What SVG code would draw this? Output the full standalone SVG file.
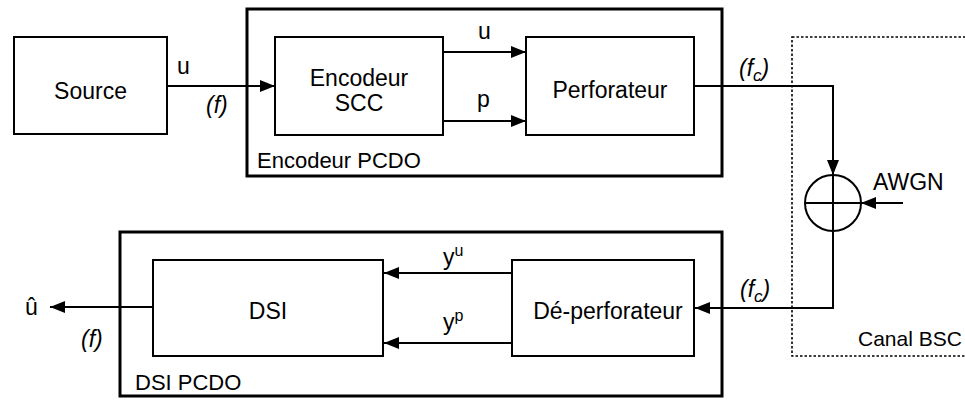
<svg xmlns="http://www.w3.org/2000/svg" width="965" height="400" viewBox="0 0 965 400">
<style>
.box{fill:none;stroke:#000;stroke-width:2}
.outer{fill:none;stroke:#000;stroke-width:3}
.dash{fill:none;stroke:#000;stroke-width:1.6;stroke-dasharray:2.5 2}
.ln{fill:none;stroke:#000;stroke-width:2}
text{font-family:"Liberation Sans",Arial,sans-serif;fill:#000}
.t{font-size:23px}
.s{font-size:22px}
.i{font-style:italic;font-size:23px}
</style>
<defs>
<marker id="arr" markerWidth="16" markerHeight="12" refX="15" refY="6" orient="auto" markerUnits="userSpaceOnUse">
<path d="M0,0 L15,6 L0,12 Z" fill="#000"/>
</marker>
</defs>
<rect width="965" height="400" fill="#fff"/>

<g id="canal">
<rect class="dash" x="792" y="37" width="190" height="319"/>
<text x="858" y="346" font-size="21">Canal BSC</text>
</g>

<g id="encodeur-pcdo">
<rect class="outer" x="247" y="9" width="475" height="167"/>
<text class="s" x="257" y="168">Encodeur PCDO</text>
</g>

<g id="dsi-pcdo">
<rect class="outer" x="120" y="232" width="602" height="164"/>
<text class="s" x="135" y="390">DSI PCDO</text>
</g>

<g id="source">
<rect class="box" x="14" y="37" width="153" height="97"/>
<text class="t" x="90.5" y="99" text-anchor="middle">Source</text>
</g>

<g id="encodeur-scc">
<rect class="box" x="275" y="37" width="168" height="98"/>
<text class="t" x="359" y="86" text-anchor="middle">Encodeur</text>
<text class="t" x="359" y="111" text-anchor="middle">SCC</text>
</g>

<g id="perforateur">
<rect class="box" x="526" y="37" width="168" height="98"/>
<text class="t" x="610" y="98" text-anchor="middle">Perforateur</text>
</g>

<g id="sommateur">
<circle cx="833" cy="203" r="28" fill="none" stroke="#000" stroke-width="2"/>
<line class="ln" x1="805" y1="203" x2="861" y2="203"/>
<line class="ln" x1="833" y1="175" x2="833" y2="231"/>
</g>

<g id="dsi">
<rect class="box" x="153" y="260" width="230" height="96"/>
<text class="t" x="268" y="319" text-anchor="middle">DSI</text>
</g>

<g id="de-perforateur">
<rect class="box" x="512" y="260" width="182" height="96"/>
<text class="t" x="608" y="319" text-anchor="middle">Dé-perforateur</text>
</g>

<g id="connectors">
<line class="ln" x1="167" y1="86" x2="275" y2="86" marker-end="url(#arr)"/>
<line class="ln" x1="443" y1="52" x2="526" y2="52" marker-end="url(#arr)"/>
<line class="ln" x1="443" y1="121" x2="526" y2="121" marker-end="url(#arr)"/>
<polyline class="ln" points="694,86 833,86 833,175" marker-end="url(#arr)"/>
<line class="ln" x1="903" y1="203" x2="861" y2="203" marker-end="url(#arr)"/>
<polyline class="ln" points="833,231 833,308 695,308" marker-end="url(#arr)"/>
<line class="ln" x1="512" y1="273" x2="384" y2="273" marker-end="url(#arr)"/>
<line class="ln" x1="512" y1="343" x2="384" y2="343" marker-end="url(#arr)"/>
<line class="ln" x1="153" y1="307" x2="50" y2="307" marker-end="url(#arr)"/>
</g>

<g id="labels">
<text class="t" x="177" y="74">u</text>
<text class="i" x="206" y="113">(f)</text>
<text class="t" x="478" y="39">u</text>
<text class="t" x="477" y="107">p</text>
<text class="i" x="739" y="76">(f<tspan font-size="17" dy="5">c</tspan><tspan dy="-5">)</tspan></text>
<text class="t" x="873" y="190">AWGN</text>
<text class="i" x="740" y="297">(f<tspan font-size="17" dy="5">c</tspan><tspan dy="-5">)</tspan></text>
<text class="t" x="443" y="265">y<tspan font-size="16" dy="-9">u</tspan></text>
<text class="t" x="443" y="330">y<tspan font-size="16" dy="-9">p</tspan></text>
<text class="t" x="25" y="315">û</text>
<text class="i" x="81" y="347">(f)</text>
</g>
</svg>
